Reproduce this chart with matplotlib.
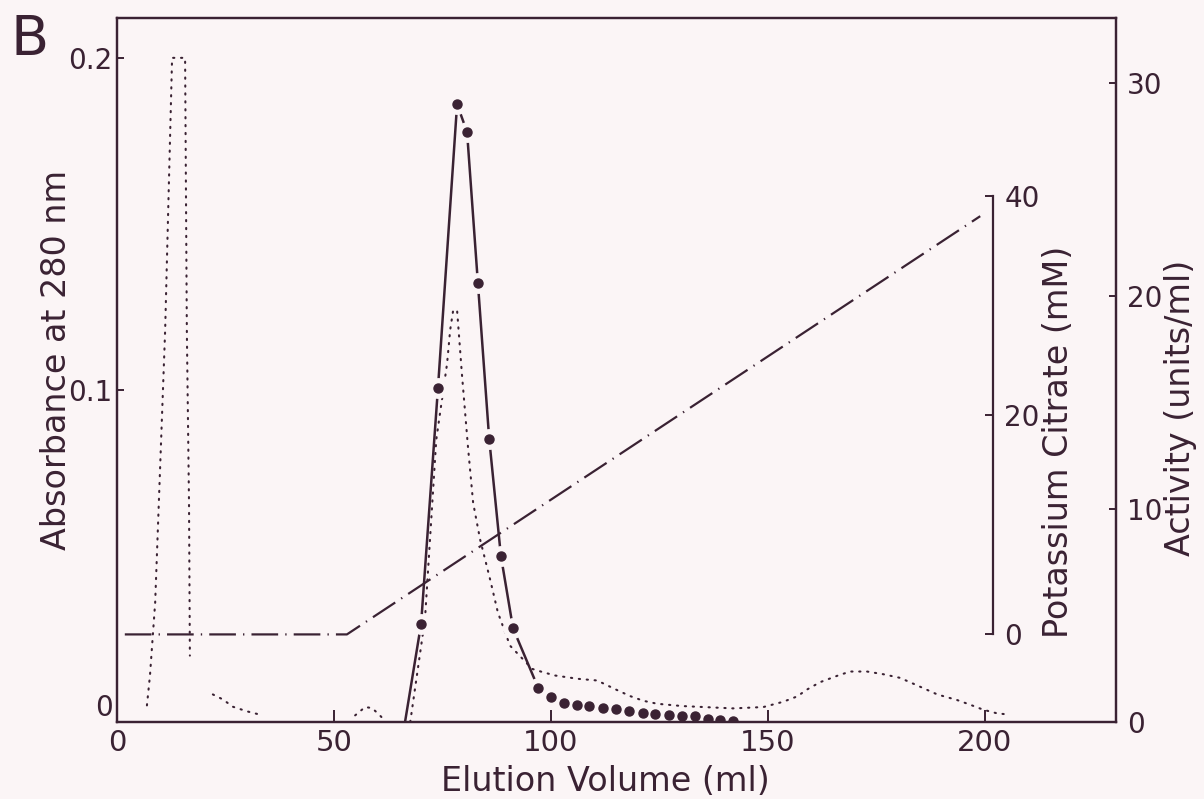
import numpy as np
import matplotlib
matplotlib.use("Agg")
import matplotlib.pyplot as plt

# ---------------- data ----------------
# Activity (units/ml), solid line with filled circles
act_ml = [66.4, 70.1, 74.0, 78.4, 80.7, 83.2, 85.8, 88.5, 91.3, 97.1]
act_val = [0.0, 4.6, 15.7, 29.0, 27.7, 20.6, 13.3, 7.8, 4.4, 1.6]
act_tail_ml = [100.0, 103.1, 106.1, 108.9, 112.1, 115.1, 118.1, 121.2,
               124.0, 127.3, 130.2, 133.3, 136.3, 139.0, 142.0]
act_tail_val = [1.19, 0.89, 0.80, 0.73, 0.67, 0.60, 0.53, 0.43,
                0.39, 0.32, 0.30, 0.28, 0.16, 0.10, 0.05]

# Absorbance at 280 nm, dotted line (several segments)
abs1_ml = [6.9, 7.6, 8.8, 11.1, 12.7, 15.7, 16.1, 16.6, 16.8]
abs1_val = [0.005, 0.014, 0.036, 0.118, 0.200, 0.200, 0.118, 0.066, 0.020]
abs2_ml = [22.1, 24.4, 26.7, 30.0, 33.0]
abs2_val = [0.0083, 0.0068, 0.0046, 0.0032, 0.0022]
abs3_ml = [54.9, 57.2, 58.8, 60.6, 61.8]
abs3_val = [0.002, 0.0045, 0.0042, 0.002, 0.0003]
abs4_ml = [67.6, 71.0, 73.6, 76.1, 76.8, 77.5, 78.4, 79.5, 80.9, 82.1, 83.7,
           86.0, 87.8, 90.6, 95.7, 98.2, 101.0, 106.3, 110.7, 115.3, 118.3,
           121.3, 124.5, 130.3, 142.0, 149.0, 153.6, 156.8, 159.1, 162.1,
           166.0, 169.0, 172.9, 176.6, 180.5, 184.5, 189.1, 193.7, 196.7,
           199.7, 202.9, 205.2]
abs4_val = [0.0, 0.031, 0.085, 0.108, 0.118, 0.124, 0.124, 0.105, 0.083,
            0.066, 0.055, 0.043, 0.033, 0.023, 0.016, 0.015, 0.014, 0.013,
            0.0125, 0.0096, 0.0078, 0.0064, 0.0055, 0.0048, 0.0041, 0.0045,
            0.0061, 0.0077, 0.0098, 0.012, 0.0139, 0.0152, 0.0152, 0.0144,
            0.0133, 0.011, 0.0083, 0.0066, 0.0052, 0.0037, 0.0026, 0.0023]

# Potassium citrate gradient (mM), dash-dot line
grad_ml = [1.8, 53.0, 199.0]
grad_mM = [0.0, 0.0, 38.2]

x_ticks = [0, 50, 100, 150, 200]
abs_ticks = [0, 0.1, 0.2]
abs_ticklabels = ["0", "0.1", "0.2"]
act_ticks = [0, 10, 20, 30]
cit_ticks = [0, 20, 40]

# ---------------- style ----------------
ink = "#3a2233"
bg = "#fbf5f6"
plt.rcParams["font.family"] = ["DejaVu Sans"]
tick_fs = 20
label_fs = 24

W, H = 1204, 799
fig = plt.figure(figsize=(W / 100, H / 100), dpi=100, facecolor=bg)

left_px, right_px, top_px, bot_px = 117, 1116, 18, 722
ax = fig.add_axes([left_px / W, 1 - bot_px / H, (right_px - left_px) / W,
                   (bot_px - top_px) / H])
ax.set_facecolor(bg)
ax.set_xlim(0, 230.3)
ax.set_ylim(0, 0.212)

for s in ax.spines.values():
    s.set_color(ink)
    s.set_linewidth(1.6)

ax.set_xticks(x_ticks)
ax.set_xticklabels([str(t) for t in x_ticks])
ax.set_yticks(abs_ticks)
ax.set_yticklabels(abs_ticklabels)
ax.tick_params(axis="x", direction="in", length=9, width=1.4, color=ink,
               labelsize=tick_fs + 1, labelcolor=ink, pad=5)
ax.tick_params(axis="y", direction="in", length=5, width=1.4, color=ink,
               labelsize=tick_fs, labelcolor=ink, pad=3)
# lift the "0" of the absorbance axis off the corner, as in the reference
ax.get_yticklabels()[0].set_verticalalignment("bottom")

# absorbance, dotted
for xs, ys in [(abs1_ml, abs1_val), (abs2_ml, abs2_val),
               (abs3_ml, abs3_val), (abs4_ml, abs4_val)]:
    ax.plot(xs, ys, color=ink, lw=1.5, linestyle=(0, (0.6, 3.2)),
            dash_capstyle="round", zorder=2)

# activity axis
ax2 = ax.twinx()
ax2.set_ylim(0, 33.05)
for s in ax2.spines.values():
    s.set_color(ink)
    s.set_linewidth(1.6)
ax2.set_yticks(act_ticks)
ax2.set_yticklabels([str(t) for t in act_ticks])
ax2.tick_params(axis="y", direction="in", length=5, width=1.4, color=ink,
                labelsize=tick_fs, labelcolor=ink, pad=8)

ax2.plot(act_ml, act_val, color=ink, lw=1.8, zorder=2)
ax2.plot(act_ml[1:], act_val[1:], "o", ms=14, color=bg, zorder=2.1)
ax2.plot(act_ml[1:], act_val[1:], "o", ms=6.5, color=ink, zorder=2.2)
ax2.plot(act_tail_ml, act_tail_val, "o", ms=6.5, color=ink, zorder=2.2)

# citrate axis (inner bracket axis)
ax3 = ax.twinx()
ax3.set_ylim(-8.0, 56.3)
for k in ["left", "top", "bottom"]:
    ax3.spines[k].set_visible(False)
ax3.spines["right"].set_position(("data", 202.0))
ax3.spines["right"].set_bounds(0, 40)
ax3.spines["right"].set_color(ink)
ax3.spines["right"].set_linewidth(1.6)
ax3.set_yticks(cit_ticks)
ax3.set_yticklabels([str(t) for t in cit_ticks])
ax3.tick_params(axis="y", direction="in", length=6, width=1.4, color=ink,
                labelsize=tick_fs, labelcolor=ink, pad=8)
ax3.plot(grad_ml, grad_mM, color=ink, lw=1.6,
         linestyle=(0, (12, 3.2, 0.6, 3.2)), zorder=2)

# labels (rotated labels anchored at their baseline)
fig.text(66 / W, 1 - 360 / H, "Absorbance at 280 nm", rotation=90,
         rotation_mode="anchor", ha="center", va="baseline",
         fontsize=label_fs, color=ink)
fig.text(605 / W, 1 - 791 / H, "Elution Volume (ml)", ha="center",
         va="baseline", fontsize=label_fs, color=ink)
fig.text(1068 / W, 1 - 442 / H, "Potassium Citrate (mM)", rotation=90,
         rotation_mode="anchor", ha="center", va="baseline",
         fontsize=label_fs, color=ink)
fig.text(1190 / W, 1 - 408 / H, "Activity (units/ml)", rotation=90,
         rotation_mode="anchor", ha="center", va="baseline",
         fontsize=label_fs, color=ink)
fig.text(30 / W, 1 - 40 / H, "B", ha="center", va="center", fontsize=40,
         color=ink)

fig.savefig("out.png", dpi=100, facecolor=bg)
